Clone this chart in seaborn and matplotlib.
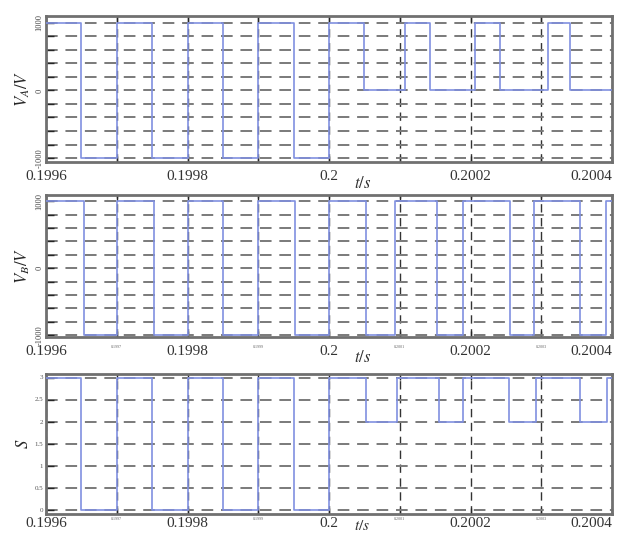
import numpy as np
import pandas as pd
import seaborn as sns
import matplotlib.pyplot as plt
import matplotlib.transforms as mtransforms

# switching waveforms (step-post: value holds until next time)
t_a = [0.1996, 0.19965, 0.1997, 0.19975, 0.1998, 0.19985, 0.1999, 0.19995, 0.2,
       0.20005, 0.200107, 0.200142, 0.200207, 0.200241, 0.20031, 0.200341, 0.2004]
v_a = [1000, -1000, 1000, -1000, 1000, -1000, 1000, -1000, 1000,
       0, 1000, 0, 1000, 0, 1000, 0, 0]

t_b = [0.1996, 0.199654, 0.1997, 0.199752, 0.1998, 0.19985, 0.1999, 0.199952, 0.2,
       0.200052, 0.200093, 0.200152, 0.20019, 0.200256, 0.200289, 0.200355, 0.200391, 0.2004]
v_b = [1000, -1000, 1000, -1000, 1000, -1000, 1000, -1000, 1000,
       -1000, 1000, -1000, 1000, -1000, 1000, -1000, 1000, 1000]

t_s = [0.1996, 0.19965, 0.1997, 0.19975, 0.1998, 0.19985, 0.1999, 0.19995, 0.2,
       0.200052, 0.200096, 0.200155, 0.20019, 0.200255, 0.200292, 0.200355, 0.200393, 0.2004]
v_s = [3, 0, 3, 0, 3, 0, 3, 0, 3, 2, 3, 2, 3, 2, 3, 2, 3, 3]

x_ticks = [0.1996, 0.1997, 0.1998, 0.1999, 0.2, 0.2001, 0.2002, 0.2003, 0.2004]
x_labels = ['0.1996', '0.1997', '0.1998', '0.1999', '0.2', '0.2001', '0.2002', '0.2003', '0.2004']

v_ticks = [-1000, -800, -600, -400, -200, 0, 200, 400, 600, 800, 1000]
v_labels = ['-1000', '', '', '', '', '0', '', '', '', '', '1000']
s_ticks = [0, 0.5, 1, 1.5, 2, 2.5, 3]
s_labels = ['0', '0.5', '1', '1.5', '2', '2.5', '3']

sns.set_style('ticks')
plt.rcParams['font.family'] = ['Liberation Serif', 'DejaVu Serif']
plt.rcParams['mathtext.fontset'] = 'stix'

fig = plt.figure(figsize=(6.18, 5.35), dpi=100)
ax_a = fig.add_axes([0.0744, 0.697, 0.916, 0.273])
ax_b = fig.add_axes([0.0744, 0.370, 0.916, 0.265])
ax_s = fig.add_axes([0.0744, 0.039, 0.916, 0.262])

line_col = '#8090e0'

panels = [
    (ax_a, t_a, v_a, (-1060, 1100), v_ticks, v_labels, r'$V_A/V$', False, 90, -0.15, 6),
    (ax_b, t_b, v_b, (-1030, 1090), v_ticks, v_labels, r'$V_B/V$', True, 90, -0.15, 6),
    (ax_s, t_s, v_s, (-0.09, 3.09), s_ticks, s_labels, r'$S$', True, 0, -0.085, 2),
]

for ax, t, v, ylim, yt, yl, ylab, small_minor, yrot, ty, xpad in panels:
    df = pd.DataFrame({'t': t, 'v': v})
    sns.lineplot(data=df, x='t', y='v', ax=ax, color=line_col, lw=1.2,
                 drawstyle='steps-post', zorder=3)
    ax.set_xlim(0.1996, 0.2004)
    ax.set_ylim(*ylim)

    ax.set_xticks(x_ticks)
    if small_minor:
        ax.set_xticklabels(x_labels)
    else:
        ax.set_xticklabels([lb if i % 2 == 0 else '' for i, lb in enumerate(x_labels)])
    for i, lbl in enumerate(ax.get_xticklabels()):
        if i % 2 == 0:
            lbl.set_fontsize(11)
            lbl.set_color('#333333')
        else:
            lbl.set_fontsize(3)
            lbl.set_color('#666666')
    ax.get_xticklabels()[-1].set_ha('right')

    ax.set_yticks(yt)
    ax.set_yticklabels(yl, rotation=yrot, va='center', fontsize=6, color='#444444')

    ax.tick_params(direction='in', top=True, right=False, length=4, width=1, pad=xpad)
    ax.tick_params(axis='y', pad=2, length=6)

    ax.grid(axis='y', ls=(0, (6, 4)), color='#7a7a7a', lw=1.4)
    ax.grid(axis='x', ls=(0, (6, 4)), color='#333333', lw=1.0)
    for sp in ax.spines.values():
        sp.set_color('#707070')
        sp.set_linewidth(2)

    ax.set_xlabel('')
    ax.set_ylabel(ylab, fontsize=12, labelpad=2)

    trans = mtransforms.blended_transform_factory(ax.transData, ax.transAxes)
    ax.text(0.200047, ty, r'$t/s$', transform=trans, fontsize=12 if ty < -0.1 else 11,
            ha='center', va='center', color='#333333')

ax_s.set_yticklabels(s_labels, fontsize=5, color='#555555')

fig.savefig('out.png', dpi=100)
